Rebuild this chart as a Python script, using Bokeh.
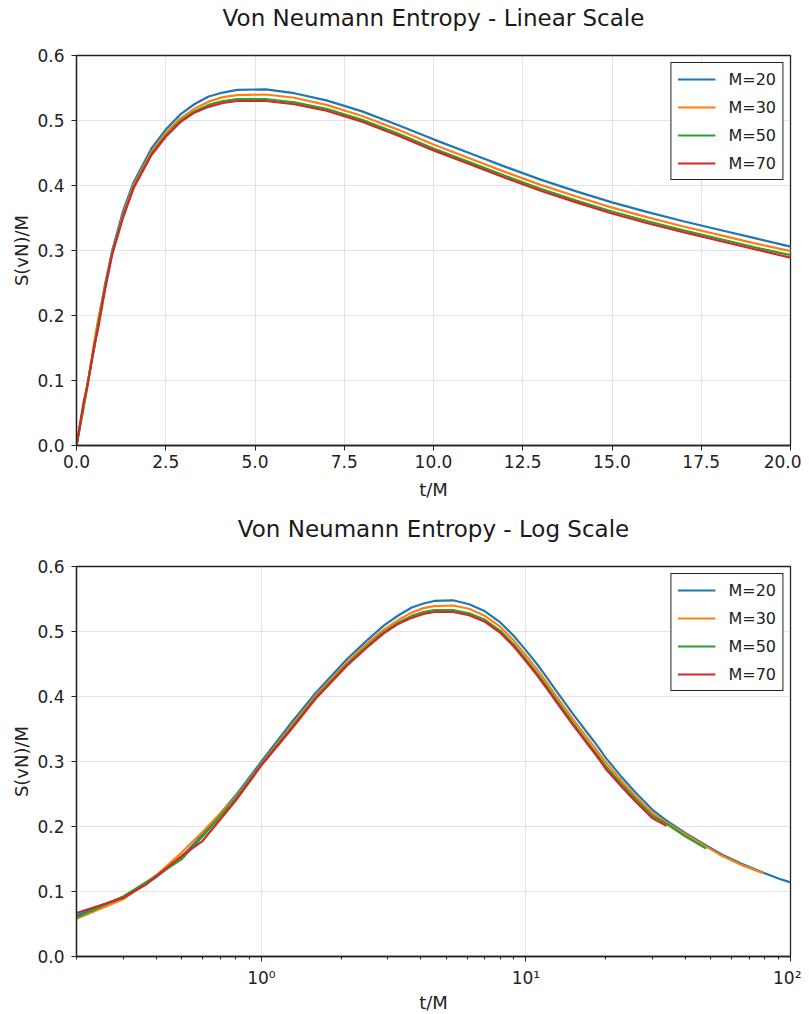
from bokeh.plotting import figure
from bokeh.layouts import column
from bokeh.models import FixedTicker, NumeralTickFormatter, Legend, LegendItem, Title
from bokeh.embed import file_html
from bokeh.resources import INLINE

# ---------------- data ----------------
labels = ["M=20", "M=30", "M=50", "M=70"]
colors = ["#1f77b4", "#ff7f0e", "#2ca02c", "#d62728"]
titles = ["Von Neumann Entropy - Linear Scale", "Von Neumann Entropy - Log Scale"]

t_m20 = [0, 0.2, 0.3, 0.4, 0.5, 0.6, 0.8, 1.0, 1.3, 1.6, 2.1, 2.5, 2.9, 3.3, 3.7, 4.1, 4.5,
         5.3, 6.1, 7, 8, 9, 10, 11, 12, 13, 14, 15, 16, 17, 18, 19, 20, 23, 26, 30, 34,
         40, 48, 55, 65, 79, 90, 100]
s_m20 = [0, 0.063, 0.092, 0.122, 0.153, 0.188, 0.248, 0.300, 0.360, 0.405, 0.457, 0.486,
         0.509, 0.525, 0.537, 0.543, 0.547, 0.548, 0.542, 0.531, 0.514, 0.493, 0.471, 0.450,
         0.429, 0.409, 0.391, 0.374, 0.359, 0.345, 0.332, 0.319, 0.306, 0.276, 0.252, 0.226,
         0.209, 0.190, 0.171, 0.157, 0.143, 0.129, 0.120, 0.114]

t_m30 = [0, 0.2, 0.3, 0.4, 0.5, 0.6, 0.8, 1.0, 1.3, 1.6, 2.1, 2.5, 2.9, 3.3, 3.7, 4.1, 4.5,
         5.3, 6.1, 7, 8, 9, 10, 11, 12, 13, 14, 15, 16, 17, 18, 19, 20, 23, 26, 30, 34,
         40, 48, 55, 65, 79]
s_m30 = [0, 0.058, 0.088, 0.125, 0.160, 0.192, 0.245, 0.297, 0.355, 0.401, 0.452, 0.481,
         0.503, 0.518, 0.529, 0.536, 0.539, 0.540, 0.535, 0.524, 0.507, 0.486, 0.463, 0.442,
         0.421, 0.401, 0.383, 0.366, 0.351, 0.337, 0.324, 0.311, 0.299, 0.270, 0.246, 0.221,
         0.206, 0.188, 0.169, 0.155, 0.141, 0.128]

t_m50 = [0, 0.2, 0.3, 0.4, 0.5, 0.6, 0.8, 1.0, 1.3, 1.6, 2.1, 2.5, 2.9, 3.3, 3.7, 4.1, 4.5,
         5.3, 6.1, 7, 8, 9, 10, 11, 12, 13, 14, 15, 16, 17, 18, 19, 20, 23, 26, 30, 34,
         40, 48]
s_m50 = [0, 0.060, 0.092, 0.124, 0.150, 0.185, 0.243, 0.296, 0.352, 0.398, 0.449, 0.477,
         0.499, 0.514, 0.524, 0.530, 0.533, 0.533, 0.528, 0.518, 0.501, 0.480, 0.457, 0.436,
         0.415, 0.395, 0.377, 0.360, 0.345, 0.331, 0.318, 0.305, 0.293, 0.265, 0.242, 0.217,
         0.204, 0.185, 0.166]

t_m70 = [0, 0.2, 0.3, 0.37, 0.5, 0.6, 0.8, 1.0, 1.3, 1.6, 2.1, 2.5, 2.9, 3.3, 3.7, 4.1, 4.5,
         5.3, 6.1, 7, 8, 9, 10, 11, 12, 13, 14, 15, 16, 17, 18, 19, 20, 23, 26, 30, 34]
s_m70 = [0, 0.067, 0.090, 0.112, 0.155, 0.178, 0.240, 0.294, 0.350, 0.396, 0.447, 0.475,
         0.497, 0.512, 0.521, 0.527, 0.530, 0.530, 0.525, 0.515, 0.498, 0.477, 0.454, 0.433,
         0.412, 0.392, 0.374, 0.357, 0.342, 0.328, 0.315, 0.302, 0.289, 0.261, 0.238, 0.213,
         0.201]

series_t = [t_m20, t_m30, t_m50, t_m70]
series_s = [s_m20, s_m30, s_m50, s_m70]

y_ticks = [0.0, 0.1, 0.2, 0.3, 0.4, 0.5, 0.6]
x_lin_ticks = [0.0, 2.5, 5.0, 7.5, 10.0, 12.5, 15.0, 17.5, 20.0]
x_log_ticks = [1, 10, 100]
x_log_minor = [0.2, 0.3, 0.4, 0.5, 0.6, 0.7, 0.8, 0.9, 2, 3, 4, 5, 6, 7, 8, 9,
               20, 30, 40, 50, 60, 70, 80, 90]
log_tick_labels = {1: "10\u2070", 10: "10\u00b9", 100: "10\u00b2"}

FONT = "DejaVu Sans"


def style(p, title):
    p.title.text = ""
    p.title.standoff = 0
    # invisible spacer next to the frame, then the real title above it
    p.add_layout(Title(text=" ", text_font_size="2px", standoff=20), "above")
    p.add_layout(Title(text=title, align="center", text_font=FONT,
                       text_font_size="23px", text_font_style="normal",
                       text_color="#1a1a1a", standoff=2), "above")
    p.outline_line_color = "#222222"
    p.outline_line_width = 1.3
    p.outline_line_alpha = 1
    for ax in (p.xaxis[0], p.yaxis[0]):
        ax.axis_line_color = "#222222"
        ax.axis_line_width = 1.3
        ax.major_tick_line_color = "#222222"
        ax.minor_tick_line_color = "#222222"
        ax.major_tick_out = 5
        ax.major_tick_in = 0
        ax.minor_tick_out = 3
        ax.minor_tick_in = 0
        ax.major_label_text_font = FONT
        ax.major_label_text_font_size = "17px"
        ax.major_label_text_color = "#222222"
        ax.axis_label_text_font = FONT
        ax.axis_label_text_font_size = "18px"
        ax.axis_label_text_font_style = "normal"
        ax.axis_label_text_color = "#222222"
    p.xaxis.axis_label = "t/M"
    p.yaxis.axis_label = "S(vN)/M"
    p.xaxis.major_label_standoff = 4
    p.yaxis.major_label_standoff = 7
    p.xaxis.axis_label_standoff = 8
    p.yaxis.axis_label_standoff = 2
    p.yaxis.ticker = FixedTicker(ticks=y_ticks)
    p.yaxis.formatter = NumeralTickFormatter(format="0.0")
    p.yaxis.minor_tick_line_color = None
    for g in (p.xgrid[0], p.ygrid[0]):
        g.grid_line_color = "#b0b0b0"
        g.grid_line_alpha = 0.35
        g.grid_line_width = 1


def add_legend(p, renderers):
    items = [LegendItem(label=l, renderers=[r]) for l, r in zip(labels, renderers)]
    leg = Legend(items=items, location="top_right")
    leg.margin = 7
    leg.padding = 6
    leg.spacing = 8
    leg.glyph_width = 38
    leg.glyph_height = 20
    leg.label_height = 20
    leg.label_standoff = 13
    leg.label_text_font = FONT
    leg.label_text_font_size = "16px"
    leg.label_text_color = "#222222"
    leg.border_line_color = "#222222"
    leg.border_line_width = 1.2
    leg.border_line_alpha = 1
    leg.background_fill_alpha = 0.9
    p.add_layout(leg, "center")


common = dict(frame_width=714, frame_height=390, output_backend="svg",
              toolbar_location=None, min_border_left=76, min_border_right=11)

p1 = figure(x_range=(0, 20), y_range=(0, 0.6), min_border_top=55,
            min_border_bottom=65, **common)
style(p1, titles[0])
p1.xaxis.ticker = FixedTicker(ticks=x_lin_ticks)
p1.xaxis.formatter = NumeralTickFormatter(format="0.0")
p1.xaxis.minor_tick_line_color = None
r1 = []
for t, s, c in zip(series_t, series_s, colors):
    r1.append(p1.line(t, s, line_color=c, line_width=2.2))
add_legend(p1, r1)

p2 = figure(x_range=(0.2, 100), y_range=(0, 0.6), x_axis_type="log",
            min_border_top=56, min_border_bottom=55, **common)
style(p2, titles[1])
p2.xaxis.ticker = FixedTicker(ticks=x_log_ticks, minor_ticks=x_log_minor)
p2.xaxis.major_label_overrides = log_tick_labels
p2.xaxis.major_label_standoff = 6
p2.xaxis.axis_label_standoff = 1
r2 = []
for t, s, c in zip(series_t, series_s, colors):
    tt = [a for a in t if a > 0]
    ss = [b for a, b in zip(t, s) if a > 0]
    r2.append(p2.line(tt, ss, line_color=c, line_width=2.2))
add_legend(p2, r2)

layout = column(p1, p2, spacing=0)
open("out.html", "w").write(file_html(layout, INLINE))
